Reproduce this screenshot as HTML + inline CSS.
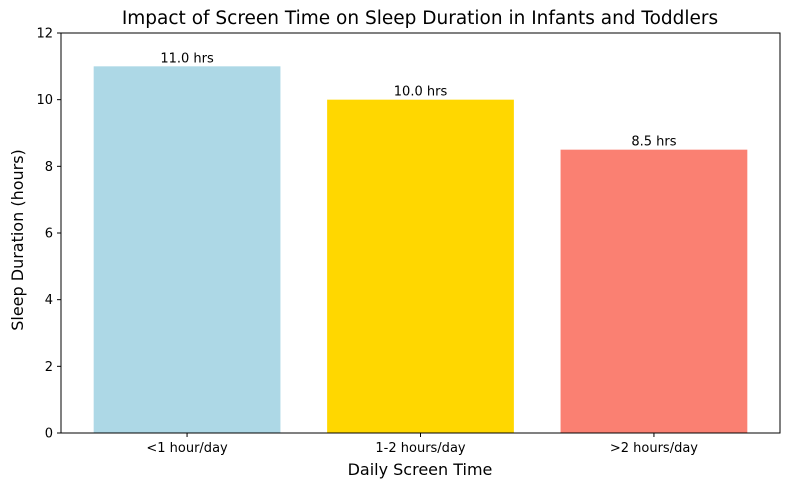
<!DOCTYPE html>
<html><head><meta charset="utf-8"><style>
body{margin:0;background:#fff;}
svg text{font-family:"DejaVu Sans","Liberation Sans",sans-serif;}
</style></head><body>
<svg id="chart" width="790" height="490" xmlns="http://www.w3.org/2000/svg">
<text x="420" y="24" font-size="18.5" text-anchor="middle">Impact of Screen Time on Sleep Duration in Infants and Toddlers</text>
<g id="bars"></g>
<g id="yticks"></g>
<g id="xticks"></g>
<rect x="61" y="33" width="719" height="400" fill="none" stroke="#000" stroke-width="1"/>
<text x="420" y="475" font-size="16" text-anchor="middle">Daily Screen Time</text>
<text transform="translate(23,240) rotate(-90)" font-size="16" text-anchor="middle">Sleep Duration (hours)</text>
</svg>
<script>
const categories=["<1 hour/day","1-2 hours/day",">2 hours/day"];
const values=[11.0,10.0,8.5];
const colors=["#add8e6","#ffd700","#fa8072"];
const yTicks=[0,2,4,6,8,10,12];
const NS="http://www.w3.org/2000/svg";
const L=61,R=780,T=33,B=433;
const y=v=>B-(v/12)*(B-T);
const x=i=>L+(i+0.54)/3.08*(R-L);
const bw=0.8/3.08*(R-L);
function mk(t,a,p){const e=document.createElementNS(NS,t);for(const k in a)e.setAttribute(k,a[k]);p.appendChild(e);return e;}
const gb=document.getElementById('bars'),gy=document.getElementById('yticks'),gx=document.getElementById('xticks');
values.forEach((v,i)=>{
 const r=mk('rect',{x:x(i)-bw/2,y:y(v),width:bw,height:B-y(v),fill:colors[i]},gb);
 
 
 const t=mk('text',{x:x(i),y:y(v)-4,'font-size':13,'text-anchor':'middle'},gb);
 t.textContent=v.toFixed(1)+' hrs';
 
 
 const tk=mk('line',{x1:x(i),x2:x(i),y1:B,y2:B+4,stroke:'#000'},gx);
 
 
 const tl=mk('text',{x:x(i),y:B+19,'font-size':13,'text-anchor':'middle'},gx);
 tl.textContent=categories[i];
 
 
});
yTicks.forEach(v=>{
 const tk=mk('line',{x1:L-4,x2:L,y1:y(v),y2:y(v),stroke:'#000'},gy);
 
 
 const tl=mk('text',{x:L-8,y:y(v)+4.5,'font-size':13,'text-anchor':'end'},gy);
 tl.textContent=v;
 
 
});
</script>
</body></html>
